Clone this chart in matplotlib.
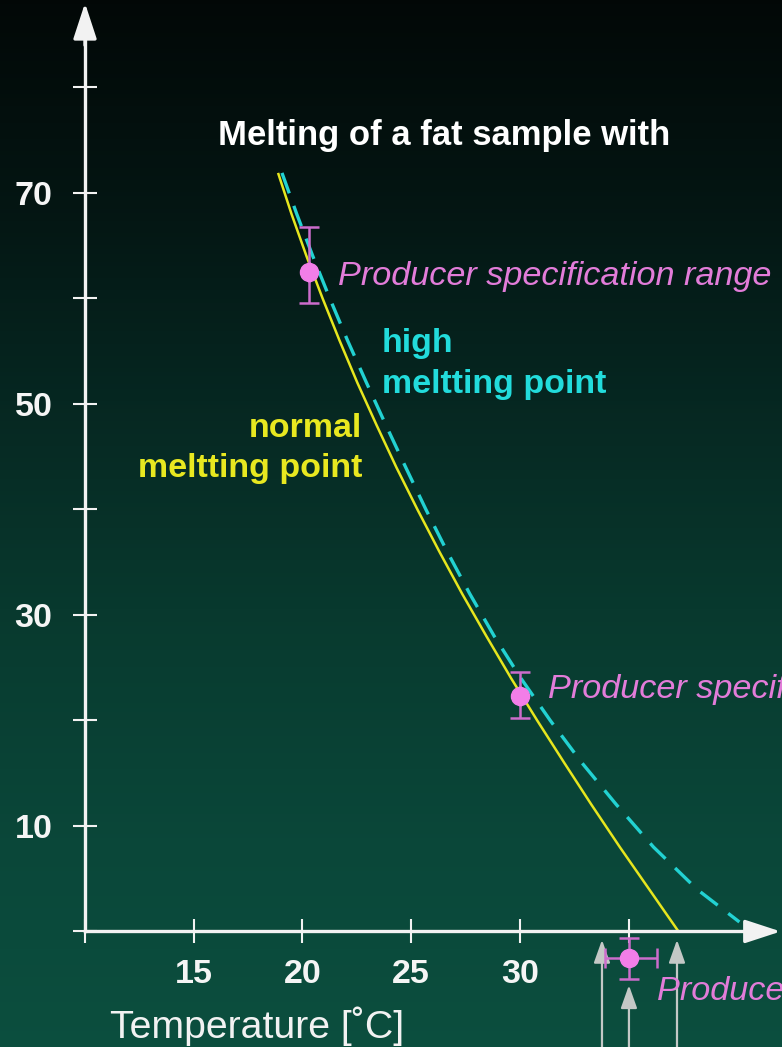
import numpy as np
import matplotlib
matplotlib.use("Agg")
import matplotlib.pyplot as plt
from matplotlib.colors import LinearSegmentedColormap

plt.rcParams['font.family'] = ['Liberation Sans', 'DejaVu Sans']

# ---- data ----
normal_y = [71.9, 68, 64, 60, 56, 52, 48, 44, 40, 36, 32, 28, 24, 20, 16, 12, 8, 4, 0]
normal_x = [18.88, 19.50, 20.19, 20.93, 21.71, 22.53, 23.41, 24.32, 25.29, 26.30,
            27.35, 28.46, 29.60, 30.80, 32.04, 33.30, 34.60, 35.95, 37.30]
high_y = [71.9, 68, 64, 60, 56, 52, 48, 44, 40, 36, 32, 28, 24, 20, 16, 12, 8, 4, 0.9]
high_x = [19.06, 19.74, 20.48, 21.26, 22.08, 22.95, 23.84, 24.75, 25.68, 26.66,
          27.70, 28.82, 30.05, 31.40, 32.85, 34.45, 36.15, 38.15, 40.10]

spec_x = [20.3, 30.0, 35.0]
spec_y = [62.5, 22.3, -2.55]
spec_yerr_lo = [2.9, 2.1, 2.0]
spec_yerr_hi = [4.3, 2.3, 1.9]
spec_xerr_lo = [0.0, 0.0, 1.06]
spec_xerr_hi = [0.0, 0.0, 1.29]
spec_labels = ["Producer specification range", "Producer specification range",
               "Producer specification range"]

marker_arrow_x = [33.78, 35.02, 37.23]
marker_arrow_tip = [-0.8, -5.1, -0.8]

x_major = [10, 15, 20, 25, 30, 35]
x_labels = ["", "15", "20", "25", "30", ""]
y_major = [0, 10, 20, 30, 40, 50, 60, 70, 80]
y_labels = ["", "10", "", "30", "", "50", "", "70", ""]

# ---- figure ----
fig = plt.figure(figsize=(7.82, 10.47), dpi=100)
ax = fig.add_axes([0, 0, 1, 1])
ax.set_xlim(6.09, 42.06)
ax.set_ylim(-10.95, 88.29)

# gradient background
bg = LinearSegmentedColormap.from_list("bg", [
    (0.0, (0.008, 0.031, 0.027)),
    (0.2, (0.016, 0.086, 0.075)),
    (0.4, (0.024, 0.160, 0.135)),
    (0.6, (0.032, 0.230, 0.185)),
    (0.8, (0.040, 0.278, 0.224)),
    (1.0, (0.045, 0.308, 0.245)),
])
grad = np.linspace(0, 1, 256).reshape(-1, 1)
ax.imshow(grad, cmap=bg, aspect='auto', extent=[0, 1, 0, 1],
          transform=ax.transAxes, zorder=0, origin='upper')

# axes spines with arrows
for s in ['top', 'right']:
    ax.spines[s].set_visible(False)
ax.spines['bottom'].set_position(('data', 0))
ax.spines['left'].set_position(('data', 10))
ax.spines['bottom'].set_bounds(10, 41)
ax.spines['left'].set_bounds(0, 86)
for s in ['bottom', 'left']:
    ax.spines[s].set_color('#f2f2f2')
    ax.spines[s].set_linewidth(2.4)
    ax.spines[s].set_zorder(5)

ax.annotate('', xy=(42.0, 0), xytext=(40.5, 0),
            arrowprops=dict(arrowstyle='-|>,head_length=1.1,head_width=0.36',
                            mutation_scale=20, lw=2.4, color='#f2f2f2',
                            shrinkA=0, shrinkB=0), zorder=6)
ax.annotate('', xy=(10, 88.0), xytext=(10, 84),
            arrowprops=dict(arrowstyle='-|>,head_length=1.1,head_width=0.36',
                            mutation_scale=20, lw=2.4, color='#f2f2f2',
                            shrinkA=0, shrinkB=0), zorder=6)

ax.set_xticks(x_major)
ax.set_xticklabels(x_labels)
ax.set_yticks(y_major)
ax.set_yticklabels(y_labels)
ax.tick_params(direction='inout', length=17, width=1.5, colors='#f2f2f2',
               labelsize=24.5)
ax.tick_params(axis='y', pad=15)
ax.tick_params(axis='x', pad=11)
for lab in ax.get_xticklabels() + ax.get_yticklabels():
    lab.set_fontweight('bold')
    lab.set_color('#f5f5f5')

# curves
ax.plot(normal_x, normal_y, color='#e6e61e', lw=1.8, zorder=3,
        solid_capstyle='butt', solid_joinstyle='round')
ax.plot(high_x, high_y, color='#22d2d2', lw=2.4, zorder=3,
        dashes=(6.5, 4))

# specification points
ax.errorbar(spec_x, spec_y,
            yerr=[spec_yerr_lo, spec_yerr_hi],
            xerr=[spec_xerr_lo, spec_xerr_hi],
            fmt='o', ms=13, color='#f27ee8', ecolor='#cc6ccc',
            elinewidth=1.8, capsize=7, capthick=1.8, zorder=7)

# arrows from below
for ax_x, tip in zip(marker_arrow_x, marker_arrow_tip):
    ax.annotate('', xy=(ax_x, tip), xytext=(ax_x, -12),
                arrowprops=dict(arrowstyle='-|>,head_length=0.7,head_width=0.25',
                                mutation_scale=20, lw=1.6, color='#c4c8c6',
                                shrinkA=0, shrinkB=0), zorder=4)

# texts
ax.text(16.12, 74.55, "Melting of a fat sample with", color='white',
        fontsize=24.9, fontweight='bold', ha='left', va='baseline')
ax.text(23.66, 54.93, "high", color='#22dcdc', fontsize=24.5,
        fontweight='bold', ha='left', va='baseline')
ax.text(23.66, 51.05, "meltting point", color='#22dcdc', fontsize=24.5,
        fontweight='bold', ha='left', va='baseline')
ax.text(22.74, 46.87, "normal", color='#e8e820', fontsize=24.5,
        fontweight='bold', ha='right', va='baseline')
ax.text(22.74, 43.08, "meltting point", color='#e8e820', fontsize=24.5,
        fontweight='bold', ha='right', va='baseline')

label_pos = [(21.64, 61.28), (31.30, 22.13), (36.31, -6.49)]
for (tx, ty), lbl in zip(label_pos, spec_labels):
    ax.text(tx, ty, lbl, color='#e27cd9', fontsize=24.7, style='italic',
            ha='left', va='baseline', zorder=8)

ax.text(11.15, -10.09, "Temperature [˚C]", color='#f2f2f2', fontsize=28.3,
        ha='left', va='baseline')

fig.savefig("out.png", dpi=100)
